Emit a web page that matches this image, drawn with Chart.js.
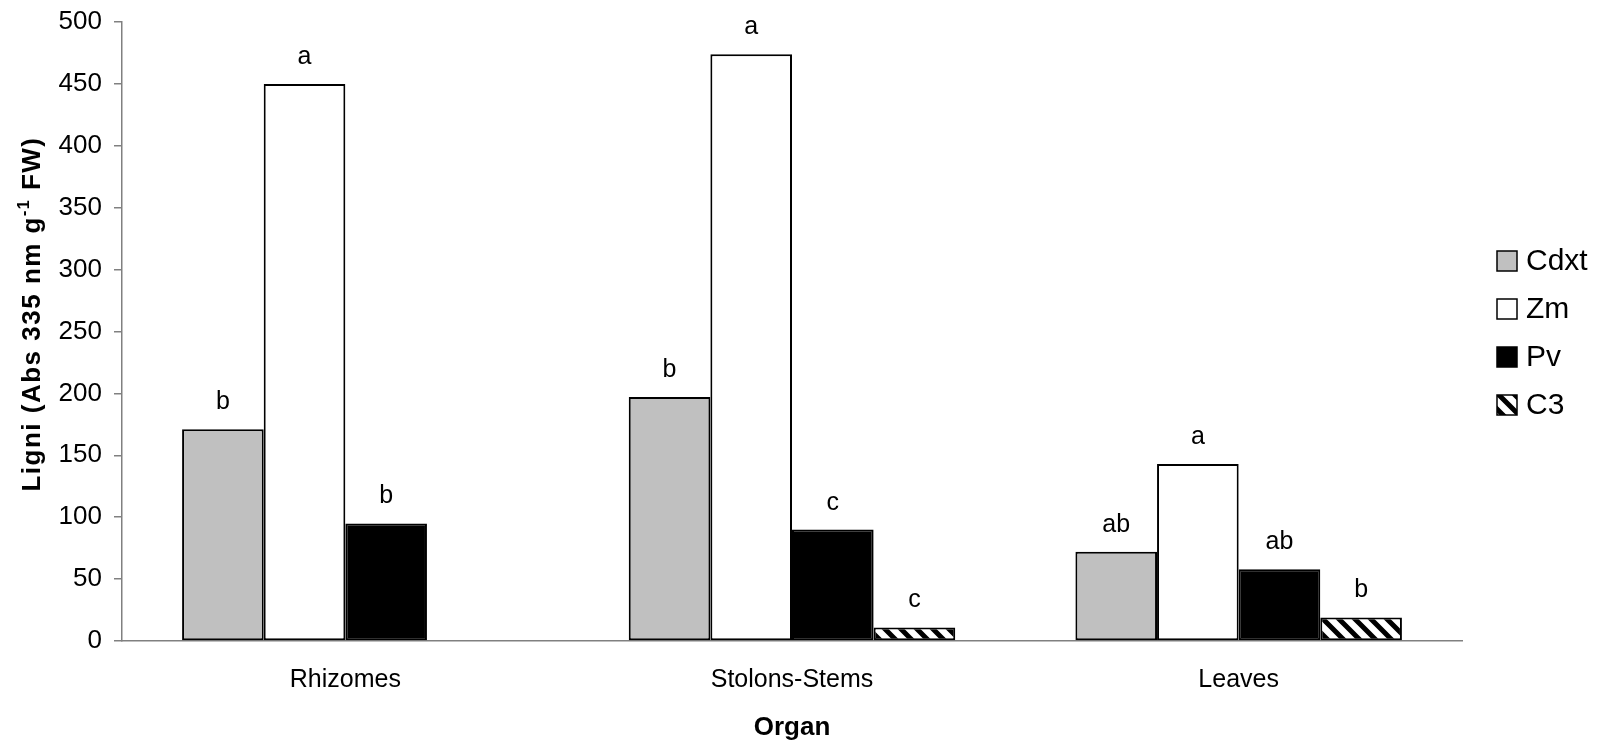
<!DOCTYPE html>
<html lang="en">
<head>
  <meta charset="UTF-8" />
  <title>Ligni by organ</title>
  <script src="https://cdn.jsdelivr.net/npm/chart.js"></script>
  <style>
    body {
      margin: 0;
      background: #ffffff;
    }
    .wrap {
      width: 1600px;
      height: 743px;
    }
  </style>
</head>
<body>
  <div class="wrap">
    <canvas id="lignChart" width="1600" height="743"></canvas>
  </div>

  <script>
    // data
    const organs = ["Rhizomes", "Stolons-Stems", "Leaves"];
    const seriesNames = ["Cdxt", "Zm", "Pv", "C3"];
    const cdxt = [171, 197, 72];
    const zm = [450, 474, 143];
    const pv = [95, 90, 58];
    const c3 = [null, 11, 19];
    const cdxtLetters = ["b", "b", "ab"];
    const zmLetters = ["a", "a", "a"];
    const pvLetters = ["b", "c", "ab"];
    const c3Letters = ["", "c", "b"];
    const yTicks = [0, 50, 100, 150, 200, 250, 300, 350, 400, 450, 500];

    const font = "'Liberation Sans', Arial, sans-serif";

    // diagonal hatch for C3
    function makeHatch() {
      const p = document.createElement("canvas");
      p.width = 16; p.height = 16;
      const g = p.getContext("2d");
      g.fillStyle = "#ffffff";
      g.fillRect(0, 0, 16, 16);
      g.strokeStyle = "#000000";
      g.lineWidth = 5;
      g.beginPath();
      g.moveTo(-4, -4); g.lineTo(20, 20);
      g.moveTo(-4, 12); g.lineTo(4, 20);
      g.moveTo(12, -4); g.lineTo(20, 4);
      g.stroke();
      return g.createPattern(p, "repeat");
    }
    const hatch = makeHatch();

    const letters = [cdxtLetters, zmLetters, pvLetters, c3Letters];

    const extras = {
      id: "extras",
      afterDatasetsDraw(chart) {
        const ctx = chart.ctx;
        ctx.save();
        ctx.fillStyle = "#000";
        ctx.font = "25px " + font;
        ctx.textAlign = "center";
        ctx.textBaseline = "alphabetic";
        chart.data.datasets.forEach((ds, i) => {
          const meta = chart.getDatasetMeta(i);
          meta.data.forEach((bar, j) => {
            if (ds.data[j] == null || !letters[i][j]) return;
            ctx.fillText(letters[i][j], bar.x, bar.y - 20);
          });
        });
        ctx.restore();
      },
      afterDraw(chart) {
        const ctx = chart.ctx;
        ctx.save();

        // y axis title with superscript
        ctx.translate(40, 314);
        ctx.rotate(-Math.PI / 2);
        ctx.fillStyle = "#000";
        ctx.textBaseline = "alphabetic";
        ctx.letterSpacing = "1.5px";
        const big = "bold 26px " + font;
        const small = "bold 16px " + font;
        const p1 = "Ligni (Abs 335 nm g", p2 = "-1", p3 = " FW)";
        ctx.font = big;
        const w1 = ctx.measureText(p1).width, w3 = ctx.measureText(p3).width;
        ctx.font = small;
        const w2 = ctx.measureText(p2).width;
        let x = -(w1 + w2 + w3) / 2;
        ctx.textAlign = "left";
        ctx.font = big;
        ctx.fillText(p1, x, 0);
        x += w1;
        ctx.font = small;
        ctx.fillText(p2, x, -11);
        x += w2;
        ctx.font = big;
        ctx.fillText(p3, x, 0);
        ctx.setTransform(1, 0, 0, 1, 0, 0);
        ctx.letterSpacing = "0px";

        // legend
        const fills = chart.data.datasets.map(d => d.backgroundColor);
        ctx.font = "30px " + font;
        ctx.textBaseline = "middle";
        seriesNames.forEach((name, i) => {
          const cy = 261 + i * 48;
          ctx.fillStyle = fills[i];
          ctx.fillRect(1497, cy - 10, 20, 20);
          ctx.strokeStyle = "#000";
          ctx.lineWidth = 1.5;
          ctx.strokeRect(1497, cy - 10, 20, 20);
          ctx.fillStyle = "#000";
          ctx.fillText(name, 1526, cy + 1);
        });
        ctx.restore();
      }
    };

    const barStyle = {
      borderColor: "#000000",
      borderWidth: 2,
      borderSkipped: false,
      barPercentage: 1,
      categoryPercentage: 0.731
    };

    new Chart(document.getElementById("lignChart"), {
      type: "bar",
      data: {
        labels: organs,
        datasets: [
          { label: seriesNames[0], data: cdxt, backgroundColor: "#c0c0c0", ...barStyle },
          { label: seriesNames[1], data: zm, backgroundColor: "#ffffff", ...barStyle },
          { label: seriesNames[2], data: pv, backgroundColor: "#000000", ...barStyle },
          { label: seriesNames[3], data: c3, backgroundColor: hatch, ...barStyle }
        ]
      },
      options: {
        responsive: false,
        animation: false,
        layout: { padding: { top: 22, right: 138, bottom: 0, left: 0 } },
        plugins: {
          legend: { display: false },
          tooltip: { enabled: false }
        },
        scales: {
          x: {
            afterFit: s => { s.height = 102; },
            grid: { display: false },
            border: { display: true, color: "#808080", width: 1.5 },
            ticks: { color: "#000", font: { family: font, size: 25 }, padding: 16 },
            title: {
              display: true,
              text: "Organ",
              color: "#000",
              font: { family: font, size: 26, weight: "bold" },
              padding: { top: 8, bottom: 0 }
            }
          },
          y: {
            min: 0,
            max: 500,
            afterFit: s => { s.width = 122; s.paddingTop = 0; s.paddingBottom = 0; },
            afterBuildTicks: s => { s.ticks = yTicks.map(v => ({ value: v })); },
            grid: { drawOnChartArea: false, drawTicks: true, tickLength: 8, color: "#808080", lineWidth: 1.5 },
            border: { display: true, color: "#808080", width: 1.5 },
            ticks: { color: "#000", font: { family: font, size: 26 }, padding: 12 }
          }
        }
      },
      plugins: [extras]
    });
  </script>
</body>
</html>
